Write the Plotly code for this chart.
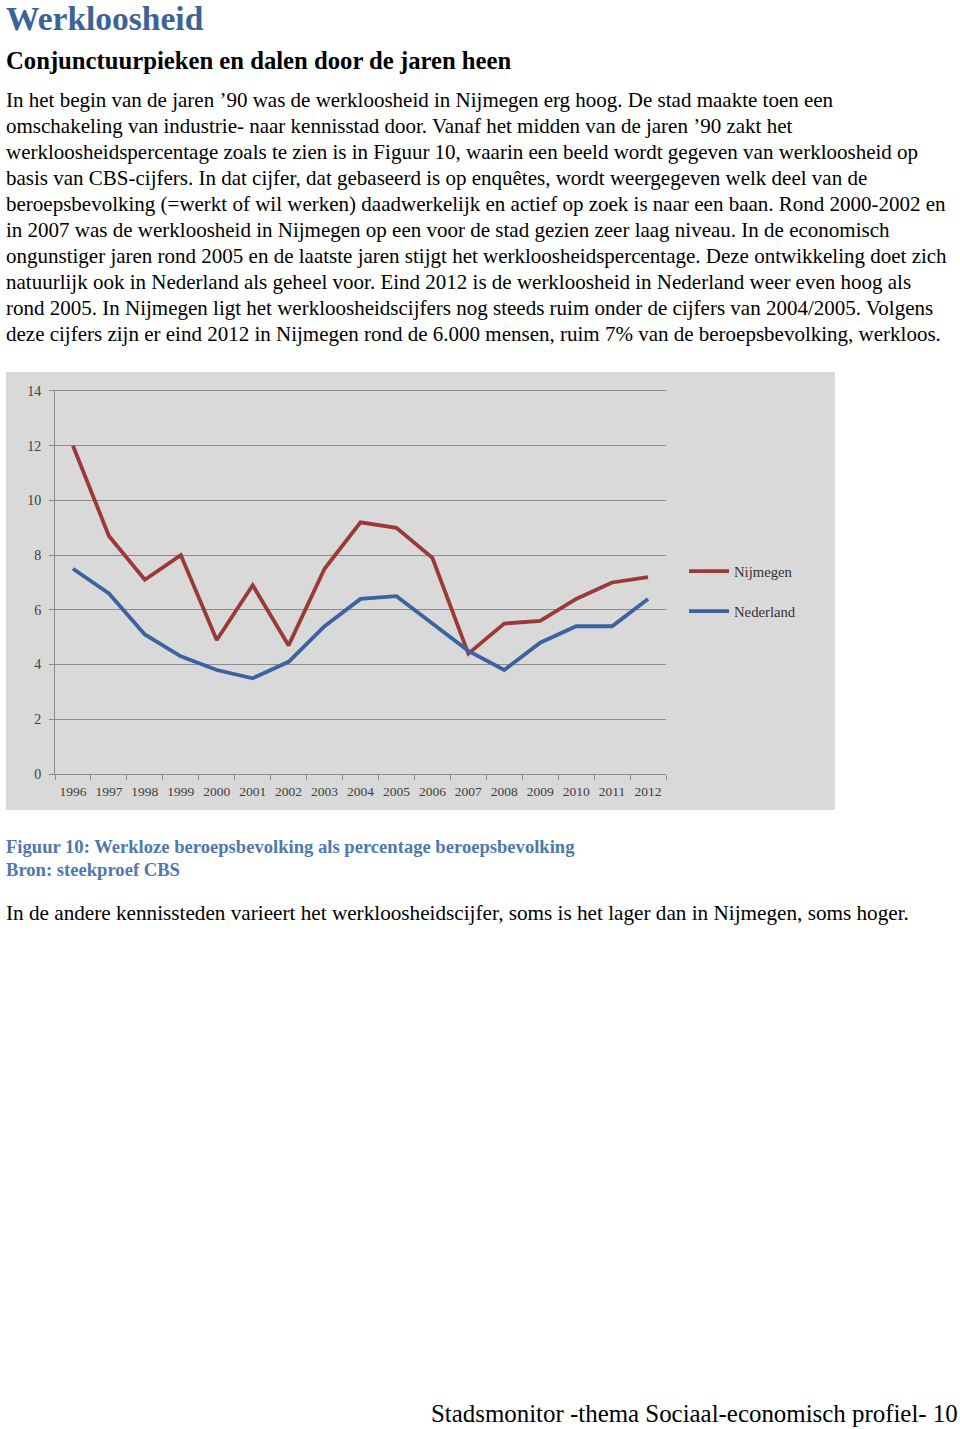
import plotly.graph_objects as go

W, H = 960, 1429

years = [str(y) for y in range(1996, 2013)]
nijmegen = [12.0, 8.7, 7.1, 8.0, 4.9, 6.9, 4.7, 7.5, 9.2, 9.0, 7.9, 4.4, 5.5, 5.6, 6.4, 7.0, 7.2]
nederland = [7.5, 6.6, 5.1, 4.3, 3.8, 3.5, 4.1, 5.4, 6.4, 6.5, 5.5, 4.5, 3.8, 4.8, 5.4, 5.4, 6.4]
y_ticks = [0, 2, 4, 6, 8, 10, 12, 14]

title = "Werkloosheid"
subtitle = "Conjunctuurpieken en dalen door de jaren heen"
body_lines = [
    "In het begin van de jaren \u201990 was de werkloosheid in Nijmegen erg hoog. De stad maakte toen een",
    "omschakeling van industrie- naar kennisstad door. Vanaf het midden van de jaren \u201990 zakt het",
    "werkloosheidspercentage zoals te zien is in Figuur 10, waarin een beeld wordt gegeven van werkloosheid op",
    "basis van CBS-cijfers. In dat cijfer, dat gebaseerd is op enqu\u00eates, wordt weergegeven welk deel van de",
    "beroepsbevolking (=werkt of wil werken) daadwerkelijk en actief op zoek is naar een baan. Rond 2000-2002 en",
    "in 2007 was de werkloosheid in Nijmegen op een voor de stad gezien zeer laag niveau. In de economisch",
    "ongunstiger jaren rond 2005 en de laatste jaren stijgt het werkloosheidspercentage. Deze ontwikkeling doet zich",
    "natuurlijk ook in Nederland als geheel voor. Eind 2012 is de werkloosheid in Nederland weer even hoog als",
    "rond 2005. In Nijmegen ligt het werkloosheidscijfers nog steeds ruim onder de cijfers van 2004/2005. Volgens",
    "deze cijfers zijn er eind 2012 in Nijmegen rond de 6.000 mensen, ruim 7% van de beroepsbevolking, werkloos.",
]
caption1 = "Figuur 10: Werkloze beroepsbevolking als percentage beroepsbevolking"
caption2 = "Bron: steekproef CBS"
after_text = "In de andere kennissteden varieert het werkloosheidscijfer, soms is het lager dan in Nijmegen, soms hoger."
footer = "Stadsmonitor -thema Sociaal-economisch profiel- 10"

SERIF = "Liberation Serif"


def py(p):
    return 1 - p / H


def px(p):
    return p / W


fig = go.Figure()
fig.add_trace(go.Scatter(x=years, y=nijmegen, mode="lines", name="Nijmegen",
                         line=dict(color="#9a3a38", width=3.8), legendgroup="a"))
fig.add_trace(go.Scatter(x=years, y=nederland, mode="lines", name="Nederland",
                         line=dict(color="#3a63a0", width=3.8), legendgroup="b"))

# grey chart background
fig.add_shape(type="rect", xref="paper", yref="paper",
              x0=px(6), x1=px(835), y0=py(810), y1=py(372),
              fillcolor="#d9d9d9", line=dict(width=0), layer="below")


def ann(text, x, y, size, color="#000000", bold=False, anchor="left", yanchor="middle"):
    return dict(text=text, x=px(x), y=py(y), xref="paper", yref="paper",
                xanchor=anchor, yanchor=yanchor, showarrow=False, borderpad=0,
                font=dict(family=SERIF, size=size, color=color,
                          weight="bold" if bold else "normal"))


annotations = [
    ann(title, 5, -1, 33.5, "#3a6496", True, yanchor="top"),
    ann(subtitle, 5, 60, 24.7, "#000000", True),
]
for i, line in enumerate(body_lines):
    annotations.append(ann(line, 5, 100 + 26 * i, 21))
annotations.append(ann(caption1, 5, 846, 18.6, "#4f78ad", True))
annotations.append(ann(caption2, 5, 869, 18.6, "#4f78ad", True))
annotations.append(ann(after_text, 5, 913, 21.2))
annotations.append(ann(footer, 959, 1413, 24.9, anchor="right"))

fig.update_layout(
    width=W, height=H,
    margin=dict(l=0, r=0, t=0, b=0, autoexpand=False),
    paper_bgcolor="#ffffff",
    plot_bgcolor="rgba(0,0,0,0)",
    showlegend=True,
    legend=dict(x=px(684), y=py(555), xanchor="left", yanchor="top",
                bgcolor="rgba(0,0,0,0)", font=dict(family=SERIF, size=14.7, color="#333333"),
                tracegroupgap=18, itemwidth=40),
    annotations=annotations,
    xaxis=dict(domain=[px(55), px(666)], type="category", range=[-0.5, 16.5],
               showgrid=False, showline=True, linecolor="#8c8c8c", linewidth=1,
               ticks="outside", tickson="boundaries", ticklen=5, tickcolor="#8c8c8c",
               tickfont=dict(family=SERIF, size=13.5, color="#404040"), tickangle=0,
               ticklabelstandoff=5, fixedrange=True, automargin=False),
    yaxis=dict(domain=[py(774), py(389.6)], range=[0, 14.05], tickvals=y_ticks,
               showgrid=True, gridcolor="#8c8c8c", gridwidth=1,
               showline=True, linecolor="#8c8c8c", linewidth=1,
               ticks="outside", ticklen=5, tickcolor="#8c8c8c",
               tickfont=dict(family=SERIF, size=14, color="#404040"),
               ticklabelstandoff=5, zeroline=False, fixedrange=True, automargin=False),
)

fig.write_html("out.html", config={"displayModeBar": False},
               post_script="document.body.style.margin='0';document.body.style.overflow='hidden';")
